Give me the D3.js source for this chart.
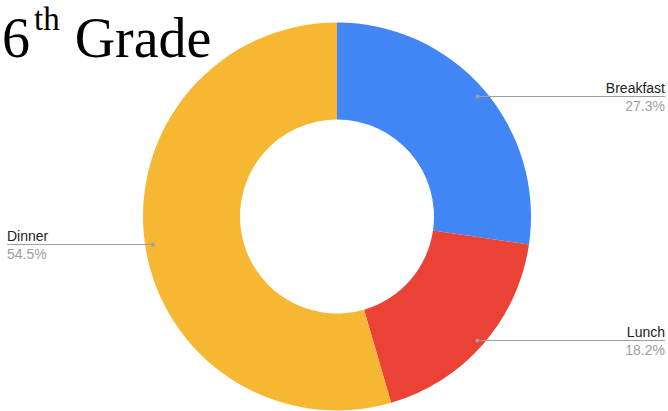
<!DOCTYPE html>
<html>
<head>
<meta charset="utf-8">
<script src="https://cdn.jsdelivr.net/npm/d3@7"></script>
<style>
  body { margin: 0; background: #fff; }
  svg { display: block; }
</style>
</head>
<body>
<svg id="chart"></svg>
<script>
var categories = ["Breakfast", "Lunch", "Dinner"]
var values = [27.3, 18.2, 54.5]
var percentLabels = ["27.3%", "18.2%", "54.5%"]
var colors = ["#4285F4", "#EA4335", "#F6B833"]

var dimensions = { width: 668, height: 411 }
var cx = 337, cy = 216.5
var outerR = 194, innerR = 97, labelR = 186

var svg = d3.select("#chart")
  .attr("width", dimensions.width)
  .attr("height", dimensions.height)

var data = categories.map((c, i) => ({ name: c, value: values[i], pct: percentLabels[i], color: colors[i] }))

var pie = d3.pie().sort(null).value(d => d.value)
var arc = d3.arc().innerRadius(innerR).outerRadius(outerR)
var dotArc = d3.arc().innerRadius(labelR).outerRadius(labelR)

var g = svg.append("g").attr("transform", `translate(${cx},${cy})`)

var arcs = pie(data)

g.selectAll("path")
  .data(arcs)
  .enter()
  .append("path")
  .attr("d", arc)
  .attr("fill", d => d.data.color)

// leader lines + labels
var labels = svg.append("g")
arcs.forEach(function (d) {
  var c = dotArc.centroid(d)
  var x = cx + c[0], y = Math.round(cy + c[1] + 1) + 0.5
  var right = c[0] > 0
  var xEnd = right ? 665 : 7

  labels.append("line")
    .attr("x1", x).attr("y1", y)
    .attr("x2", xEnd).attr("y2", y)
    .attr("stroke", "#9e9e9e")
    .attr("stroke-width", 1)
  labels.append("circle")
    .attr("cx", x).attr("cy", y)
    .attr("r", 2)
    .attr("fill", "#9e9e9e")

  labels.append("text")
    .attr("x", xEnd).attr("y", y - 4)
    .attr("text-anchor", right ? "end" : "start")
    .style("font-family", "'Liberation Sans', Arial, sans-serif")
    .style("font-size", "14px")
    .attr("fill", "#222")
    .text(d.data.name)
  labels.append("text")
    .attr("x", xEnd).attr("y", y + 14)
    .attr("text-anchor", right ? "end" : "start")
    .style("font-family", "'Liberation Sans', Arial, sans-serif")
    .style("font-size", "14px")
    .attr("fill", "#9e9e9e")
    .text(d.data.pct)
})

// title
var title = svg.append("text")
  .attr("x", 2).attr("y", 57)
  .style("font-family", "'Liberation Serif', 'Times New Roman', serif")
  .style("font-size", "56px")
  .attr("fill", "#000")
title.append("tspan").text("6")
title.append("tspan").attr("dy", -27).attr("dx", 4).style("font-size", "33px").text("th")
title.append("tspan").attr("dy", 27).attr("dx", 1).text(" Grade")
</script>
</body>
</html>
